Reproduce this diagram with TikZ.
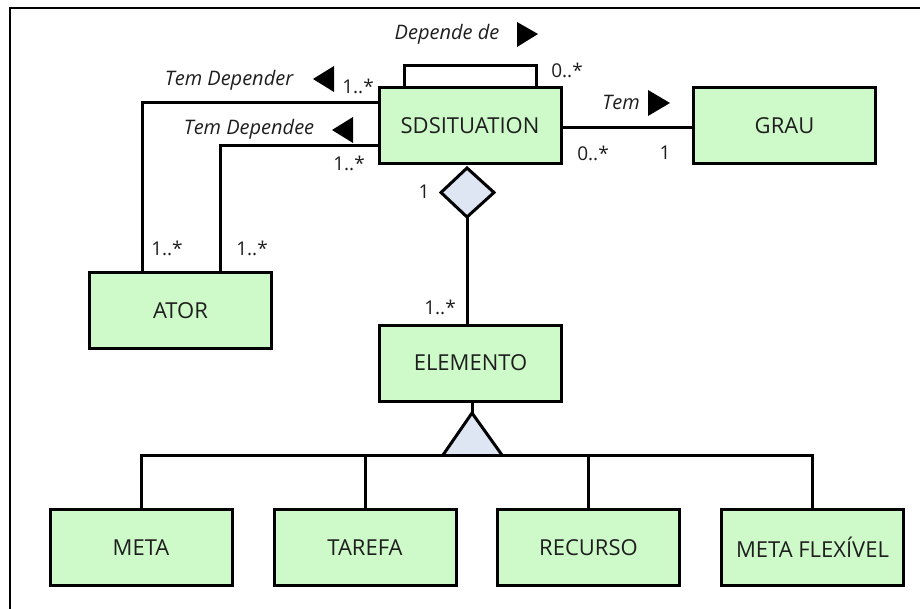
\documentclass[tikz,border=0pt]{standalone}
\usepackage{fontspec}
\setmainfont{Open Sans}
\definecolor{boxgreen}{RGB}{206,250,202}
\definecolor{aggfill}{RGB}{222,230,243}
\definecolor{txt}{RGB}{30,30,30}
\begin{document}
\begin{tikzpicture}[x=1pt,y=-1pt,line join=miter,
  cls/.style={draw=black,line width=3pt,fill=boxgreen,minimum width=182pt,
    minimum height=76pt,inner sep=0pt,text=txt,font=\fontsize{22}{26}\selectfont},
  link/.style={line width=3pt},
  role/.style={inner sep=0pt,text=txt,font=\itshape\fontsize{20}{24}\selectfont},
  mult/.style={inner sep=0pt,text=txt,font=\fontsize{19}{23}\selectfont},
  dirmark/.style={fill=black,draw=none}]
\useasboundingbox (0,0) rectangle (920,609);
\clip (0,0) rectangle (920,609);

% outer frame (only its top and left edges fall on the page)
\draw[line width=2.5pt] (10,640) -- (10,8) -- (950,8);

% classes
\node[cls] (sd)     at (470,126)   {SDSITUATION};
\node[cls] (grau)   at (784.5,126) {GRAU};
\node[cls] (ator)   at (180.5,310.5) {ATOR};
\node[cls] (elem)   at (470.5,363) {ELEMENTO};
\node[cls] (meta)   at (141,547.5) {META};
\node[cls] (tarefa) at (365,547.5) {TAREFA};
\node[cls] (rec)    at (588.5,547.5) {RECURSO};
\node[cls] (flex)   at (812.5,547.5) {META FLEXÍVEL};

% self association "Depende de"
\draw[link] ([xshift=-66pt]sd.north) -- ++(0,-21) -- ++(132,0) -- ([xshift=66pt]sd.north);
\node[role] (lbldep) at (447,34) {Depende de};
\fill[dirmark] (538,34) -- (517,22) -- (517,47) -- cycle;
\node[mult] (m0a) at (567,70) {0..*};

% associations with ATOR
\draw[link] ([yshift=23pt]sd.west) -| ([xshift=-38.5pt]ator.north);
\draw[link] ([yshift=-20pt]sd.west) -| ([xshift=39.5pt]ator.north);
\node[role] (lbldr) at (229,80) {Tem Depender};
\fill[dirmark] (313,79) -- (334,66) -- (334,92) -- cycle;
\node[mult] (m1a) at (358,86) {1..*};
\node[role] (lblde) at (249,129) {Tem Dependee};
\fill[dirmark] (332,130) -- (353,117) -- (353,143) -- cycle;
\node[mult] (m1b) at (349,163) {1..*};
\node[mult] (m1c) at (167,248) {1..*};
\node[mult] (m1d) at (252,248) {1..*};

% association with GRAU
\draw[link] ([yshift=-2pt]sd.east) -- ([yshift=-2pt]grau.west);
\node[role] (lbltem) at (621,102) {Tem};
\fill[dirmark] (670,103) -- (648,90) -- (648,116) -- cycle;
\node[mult] (m0b) at (593,153) {0..*};
\node[mult] (m1e) at (665,153) {1};

% aggregation SDSITUATION <>-- ELEMENTO
\coordinate (dtop) at (467,168);
\coordinate (dbot) at (467,217);
\draw[link,fill=aggfill] (dtop) -- (441,192.5) -- (dbot) -- (494,192.5) -- cycle;
\draw[link] (dbot) -- (dbot |- elem.north);
\node[mult] (m1f) at (424,192) {1};
\node[mult] (m1g) at (440,307) {1..*};

% generalisation ELEMENTO <|-- subclasses
\coordinate (apex) at (472,413);
\draw[link] (apex |- elem.south) -- (apex);
\draw[link,fill=aggfill] (443,455) -- (apex) -- (502,455);
\draw[link] (meta.north) |- (flex.north |- 0,455) -- (flex.north);
\draw[link] (tarefa.north) -- (tarefa.north |- 0,455);
\draw[link] (rec.north) -- (rec.north |- 0,455);
\end{tikzpicture}
\end{document}
